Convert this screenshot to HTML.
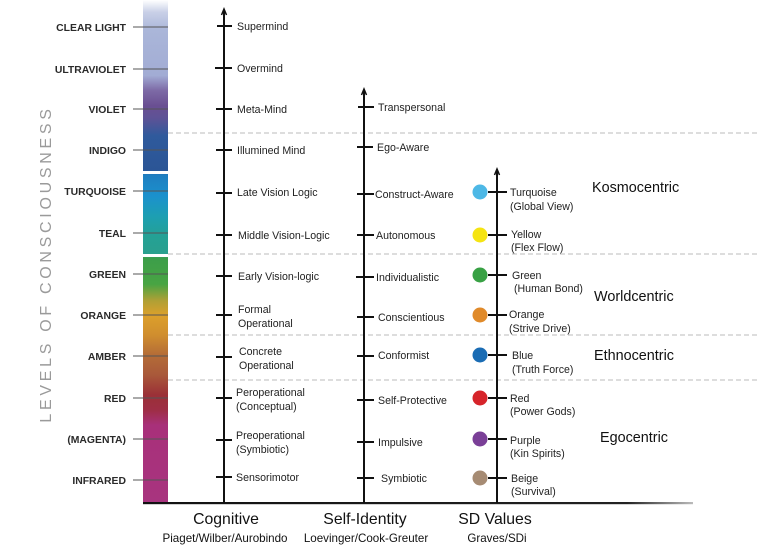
<!DOCTYPE html>
<html><head><meta charset="utf-8"><style>
html,body{margin:0;padding:0;background:#fff;}
svg{display:block;}
.lv{font-family:"Liberation Sans",sans-serif;font-weight:bold;font-size:10.4px;fill:#2a2a2a;text-anchor:end;}
.t{font-family:"Liberation Sans",sans-serif;font-size:10.6px;fill:#222;}
.big{font-family:"Liberation Sans",sans-serif;font-size:15.8px;fill:#111;text-anchor:middle;}
.sub{font-family:"Liberation Sans",sans-serif;font-size:11.6px;fill:#111;text-anchor:middle;}
.ctr{font-family:"Liberation Sans",sans-serif;font-size:14.4px;fill:#111;}
</style></head><body>
<svg width="760" height="555" viewBox="0 0 760 555" xmlns="http://www.w3.org/2000/svg">
<defs>
<linearGradient id="bar" gradientUnits="userSpaceOnUse" x1="0" y1="0" x2="0" y2="503">
<stop offset="0" stop-color="#ffffff"/>
<stop offset="0.024" stop-color="#c9d0e7"/>
<stop offset="0.06" stop-color="#aab6d9"/>
<stop offset="0.15" stop-color="#a2acd4"/>
<stop offset="0.18" stop-color="#7d6aa6"/>
<stop offset="0.21" stop-color="#6a4f92"/>
<stop offset="0.235" stop-color="#5d5296"/>
<stop offset="0.27" stop-color="#2f5a9c"/>
<stop offset="0.338" stop-color="#2b5596"/>
<stop offset="0.348" stop-color="#1f7ec0"/>
<stop offset="0.39" stop-color="#1b91cd"/>
<stop offset="0.43" stop-color="#1d9fb2"/>
<stop offset="0.47" stop-color="#24a195"/>
<stop offset="0.505" stop-color="#2aa08e"/>
<stop offset="0.513" stop-color="#3c9e4a"/>
<stop offset="0.565" stop-color="#48a443"/>
<stop offset="0.598" stop-color="#b0a035"/>
<stop offset="0.627" stop-color="#dca02b"/>
<stop offset="0.666" stop-color="#d08e2e"/>
<stop offset="0.706" stop-color="#b46c37"/>
<stop offset="0.745" stop-color="#a9593a"/>
<stop offset="0.785" stop-color="#9b3037"/>
<stop offset="0.815" stop-color="#9e2e45"/>
<stop offset="0.845" stop-color="#a8307a"/>
<stop offset="1" stop-color="#a8347f"/>
</linearGradient>
<linearGradient id="bl" x1="0" y1="0" x2="1" y2="0">
<stop offset="0" stop-color="#111"/>
<stop offset="0.88" stop-color="#222"/>
<stop offset="1" stop-color="#bbb"/>
</linearGradient>
</defs>

<!-- vertical title -->
<text transform="translate(51,264) rotate(-90)" text-anchor="middle" font-family="Liberation Sans, sans-serif" font-size="16" letter-spacing="3.7" fill="#9a9a9a">LEVELS OF CONSCIOUSNESS</text>

<!-- color bar -->
<rect x="143" y="0" width="25" height="503" fill="url(#bar)"/>
<rect x="143" y="171" width="25" height="3" fill="#fff"/>
<rect x="143" y="254" width="25" height="3" fill="#fff"/>

<!-- dashed separators -->
<g stroke="#bbb" stroke-width="1" stroke-dasharray="5,3">
<line x1="168" y1="133" x2="760" y2="133"/>
<line x1="168" y1="254" x2="760" y2="254"/>
<line x1="168" y1="335" x2="760" y2="335"/>
<line x1="168" y1="380" x2="760" y2="380"/>
</g>

<!-- level ticks & labels -->
<g stroke="#555" stroke-width="1">
<line x1="133" y1="27" x2="168" y2="27"/>
<line x1="133" y1="69" x2="168" y2="69"/>
<line x1="133" y1="109" x2="168" y2="109"/>
<line x1="133" y1="150" x2="168" y2="150"/>
<line x1="133" y1="191" x2="168" y2="191"/>
<line x1="133" y1="233" x2="168" y2="233"/>
<line x1="133" y1="274" x2="168" y2="274"/>
<line x1="133" y1="315" x2="168" y2="315"/>
<line x1="133" y1="356" x2="168" y2="356"/>
<line x1="133" y1="398" x2="168" y2="398"/>
<line x1="133" y1="439" x2="168" y2="439"/>
<line x1="133" y1="480" x2="168" y2="480"/>
</g>
<g class="lv">
<text x="126" y="31">CLEAR LIGHT</text>
<text x="126" y="73">ULTRAVIOLET</text>
<text x="126" y="113">VIOLET</text>
<text x="126" y="154">INDIGO</text>
<text x="126" y="195">TURQUOISE</text>
<text x="126" y="237">TEAL</text>
<text x="126" y="278">GREEN</text>
<text x="126" y="319">ORANGE</text>
<text x="126" y="360">AMBER</text>
<text x="126" y="402">RED</text>
<text x="126" y="443">(MAGENTA)</text>
<text x="126" y="484">INFRARED</text>
</g>

<!-- bottom baseline -->
<rect x="143" y="502" width="550" height="2.2" fill="url(#bl)"/>

<!-- axes -->
<g stroke="#111" stroke-width="2" fill="none">
<line x1="224" y1="11" x2="224" y2="503"/>
<line x1="364" y1="91" x2="364" y2="503"/>
<line x1="497" y1="171" x2="497" y2="503"/>
<polyline points="221.5,15 224,9 226.5,15" stroke-width="1.5"/>
<polyline points="361.5,95 364,89 366.5,95" stroke-width="1.5"/>
<polyline points="494.5,175 497,169 499.5,175" stroke-width="1.5"/>
</g>

<!-- cognitive ticks -->
<g stroke="#111" stroke-width="2">
<line x1="217" y1="26" x2="232" y2="26"/>
<line x1="215" y1="68" x2="232" y2="68"/>
<line x1="216" y1="109" x2="232" y2="109"/>
<line x1="216" y1="150" x2="232" y2="150"/>
<line x1="216" y1="193" x2="232" y2="193"/>
<line x1="216" y1="235" x2="232" y2="235"/>
<line x1="216" y1="276" x2="232" y2="276"/>
<line x1="216" y1="315" x2="232" y2="315"/>
<line x1="216" y1="357" x2="232" y2="357"/>
<line x1="216" y1="398" x2="232" y2="398"/>
<line x1="216" y1="440" x2="232" y2="440"/>
<line x1="216" y1="477" x2="232" y2="477"/>
</g>
<g class="t">
<text x="237" y="30">Supermind</text>
<text x="237" y="72">Overmind</text>
<text x="237" y="113">Meta-Mind</text>
<text x="237" y="154">Illumined Mind</text>
<text x="237" y="196">Late Vision Logic</text>
<text x="238" y="239">Middle Vision-Logic</text>
<text x="238" y="280">Early Vision-logic</text>
<text x="238" y="313">Formal</text>
<text x="238" y="327">Operational</text>
<text x="239" y="355">Concrete</text>
<text x="239" y="369">Operational</text>
<text x="236" y="396">Peroperational</text>
<text x="236" y="410">(Conceptual)</text>
<text x="236" y="439">Preoperational</text>
<text x="236" y="453">(Symbiotic)</text>
<text x="236" y="481">Sensorimotor</text>
</g>

<!-- self-identity ticks -->
<g stroke="#111" stroke-width="2">
<line x1="358" y1="107" x2="374" y2="107"/>
<line x1="357" y1="147" x2="373" y2="147"/>
<line x1="357" y1="194" x2="374" y2="194"/>
<line x1="357" y1="235" x2="374" y2="235"/>
<line x1="356" y1="277" x2="374" y2="277"/>
<line x1="357" y1="317" x2="374" y2="317"/>
<line x1="357" y1="356" x2="374" y2="356"/>
<line x1="357" y1="400" x2="374" y2="400"/>
<line x1="357" y1="442" x2="374" y2="442"/>
<line x1="357" y1="478" x2="374" y2="478"/>
</g>
<g class="t">
<text x="378" y="111">Transpersonal</text>
<text x="377" y="151">Ego-Aware</text>
<text x="375" y="198">Construct-Aware</text>
<text x="376" y="239">Autonomous</text>
<text x="376" y="281">Individualistic</text>
<text x="378" y="321">Conscientious</text>
<text x="378" y="359">Conformist</text>
<text x="378" y="404">Self-Protective</text>
<text x="378" y="446">Impulsive</text>
<text x="381" y="482">Symbiotic</text>
</g>

<!-- SD ticks, circles -->
<g stroke="#111" stroke-width="2">
<line x1="488" y1="192" x2="507" y2="192"/>
<line x1="488" y1="235" x2="507" y2="235"/>
<line x1="488" y1="275" x2="507" y2="275"/>
<line x1="488" y1="315" x2="507" y2="315"/>
<line x1="488" y1="355" x2="507" y2="355"/>
<line x1="488" y1="398" x2="507" y2="398"/>
<line x1="488" y1="439" x2="507" y2="439"/>
<line x1="488" y1="478" x2="507" y2="478"/>
</g>
<circle cx="480" cy="192" r="7.5" fill="#4db8e6"/>
<circle cx="480" cy="235" r="7.5" fill="#f5e412"/>
<circle cx="480" cy="275" r="7.5" fill="#38a144"/>
<circle cx="480" cy="315" r="7.5" fill="#e08a2a"/>
<circle cx="480" cy="355" r="7.5" fill="#1a6cb4"/>
<circle cx="480" cy="398" r="7.5" fill="#d6242a"/>
<circle cx="480" cy="439" r="7.5" fill="#7a3f97"/>
<circle cx="480" cy="478" r="7.5" fill="#a68b73"/>
<g class="t">
<text x="510" y="196">Turquoise</text>
<text x="510" y="210">(Global View)</text>
<text x="511" y="238">Yellow</text>
<text x="511" y="251">(Flex Flow)</text>
<text x="512" y="279">Green</text>
<text x="514" y="292">(Human Bond)</text>
<text x="509" y="318">Orange</text>
<text x="509" y="332">(Strive Drive)</text>
<text x="512" y="359">Blue</text>
<text x="512" y="373">(Truth Force)</text>
<text x="510" y="402">Red</text>
<text x="510" y="415">(Power Gods)</text>
<text x="510" y="444">Purple</text>
<text x="510" y="457">(Kin Spirits)</text>
<text x="511" y="482">Beige</text>
<text x="511" y="495">(Survival)</text>
</g>

<!-- center labels -->
<g class="ctr">
<text x="592" y="192">Kosmocentric</text>
<text x="594" y="301">Worldcentric</text>
<text x="594" y="360">Ethnocentric</text>
<text x="600" y="442">Egocentric</text>
</g>

<!-- bottom labels -->
<text class="big" x="226" y="524">Cognitive</text>
<text class="big" x="365" y="524">Self-Identity</text>
<text class="big" x="495" y="524">SD Values</text>
<text class="sub" x="225" y="542">Piaget/Wilber/Aurobindo</text>
<text class="sub" x="366" y="542">Loevinger/Cook-Greuter</text>
<text class="sub" x="497" y="542">Graves/SDi</text>
</svg>
</body></html>
